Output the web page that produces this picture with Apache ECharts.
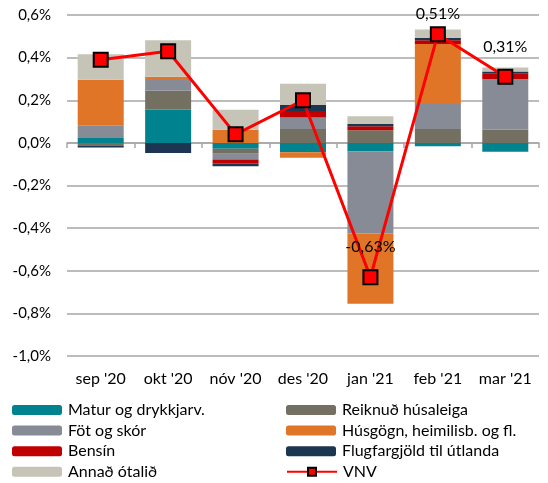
<!DOCTYPE html>
<html>
<head>
<meta charset="utf-8">
<script src="https://cdn.jsdelivr.net/npm/echarts@6/dist/echarts.min.js"></script>
<style>
  html, body { margin: 0; padding: 0; background: #fff; }
  #chart { width: 548px; height: 483px; }
</style>
</head>
<body>
<div id="chart"></div>
<script>
const categories = ["sep '20", "okt '20", "nóv '20", "des '20", "jan '21", "feb '21", "mar '21"]
const matur = [0.023, 0.156, -0.028, -0.044, -0.04, -0.016, -0.042]
const reikn = [-0.012, 0.089, -0.023, 0.065, 0.059, 0.065, 0.062]
const fot = [0.06, 0.05, -0.027, 0.054, -0.385, 0.117, 0.237]
const husg = [0.213, 0.015, 0.061, -0.026, -0.33, 0.282, 0]
const bensin = [0, 0, -0.019, 0.031, 0.019, 0.017, 0.025]
const flug = [-0.01, -0.047, -0.013, 0.028, 0.01, 0.012, 0.011]
const annad = [0.12, 0.172, 0.094, 0.099, 0.037, 0.039, 0.019]
const vnv = [0.39, 0.43, 0.04, 0.20, -0.63, 0.51, 0.31]
const vnvLabelled = [4, 5, 6]

// legend: left column, then right column
const legendLeft = ['Matur og drykkjarv.', 'Föt og skór', 'Bensín', 'Annað ótalið']
const legendRight = ['Reiknuð húsaleiga', 'Húsgögn, heimilisb. og fl.', 'Flugfargjöld til útlanda', 'VNV']

const font = 'Lato'
const fmt = v => v.toFixed(2).replace('.', ',') + '%'

const barSeries = [
  { name: 'Matur og drykkjarv.', data: matur, color: '#00838F' },
  { name: 'Reiknuð húsaleiga', data: reikn, color: '#737062' },
  { name: 'Föt og skór', data: fot, color: '#868B96' },
  { name: 'Húsgögn, heimilisb. og fl.', data: husg, color: '#E07427' },
  { name: 'Bensín', data: bensin, color: '#C00000' },
  { name: 'Flugfargjöld til útlanda', data: flug, color: '#1C3551' },
  { name: 'Annað ótalið', data: annad, color: '#C6C4B6' }
].map(item => ({
  name: item.name,
  type: 'bar',
  stack: 'total',
  barWidth: 46,
  data: item.data,
  itemStyle: { color: item.color },
  emphasis: { disabled: true }
}))

function legendItem(name, left, row) {
  return {
    data: [name],
    left: left,
    top: 402 + row * 20.6,
    padding: 0,
    itemWidth: 50,
    itemHeight: 10,
    itemGap: 0,
    selectedMode: false,
    textStyle: { fontSize: 16, color: '#000', fontFamily: font, padding: [0, 0, 0, 1] }
  }
}

const legends = [
  ...legendLeft.map((n, i) => legendItem(n, 12, i)),
  ...legendRight.map((n, i) => legendItem(n, 286, i))
]

const chart = echarts.init(document.getElementById('chart'))
chart.setOption({
  animation: false,
  textStyle: { fontFamily: font },
  grid: { left: 67, right: 9, top: 15, bottom: 127 },
  legend: legends,
  xAxis: [
    {
      type: 'category',
      data: categories,
      axisLine: { onZero: true, lineStyle: { color: '#A6A6A6', width: 1.5 } },
      axisTick: { show: true, length: 5, lineStyle: { color: '#A6A6A6', width: 1.5 } },
      axisLabel: { show: false }
    },
    {
      type: 'category',
      data: categories,
      position: 'bottom',
      axisLine: { show: false, onZero: false },
      axisTick: { show: false },
      axisLabel: { color: '#000', fontSize: 16, margin: 15, interval: 0, fontFamily: font }
    }
  ],
  yAxis: {
    type: 'value',
    min: -1.0,
    max: 0.6,
    interval: 0.2,
    axisLine: { show: false },
    axisTick: { show: false },
    axisLabel: {
      color: '#000', fontSize: 15, margin: 16, fontFamily: font,
      formatter: v => v.toFixed(1).replace('.', ',') + '%'
    },
    splitLine: { lineStyle: { color: '#A6A6A6', width: 1.5 } }
  },
  series: [
    ...barSeries,
    {
      name: 'VNV',
      type: 'line',
      z: 10,
      data: vnv.map((v, i) => ({
        value: v,
        label: {
          show: vnvLabelled.includes(i),
          position: 'top',
          distance: i === 5 ? 4 : 14,
          formatter: p => fmt(p.value),
          color: '#000',
          fontSize: 16,
          fontFamily: font
        }
      })),
      symbol: 'rect',
      symbolSize: 14,
      lineStyle: { color: '#FF0000', width: 3 },
      itemStyle: { color: '#FF0000', borderColor: '#000', borderWidth: 2 },
      emphasis: { disabled: true }
    }
  ]
})
</script>
</body>
</html>
